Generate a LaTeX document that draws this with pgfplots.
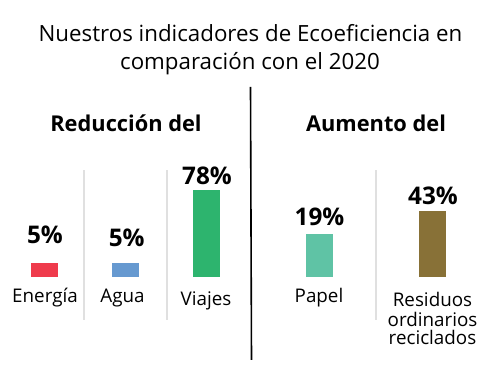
\documentclass[border=0pt]{standalone}
\usepackage{fontspec}
\setmainfont{Open Sans}
\usepackage{pgfplots}
\pgfplotsset{compat=1.18}
\definecolor{cEner}{HTML}{EF3B4C}
\definecolor{cAgua}{HTML}{6699D0}
\definecolor{cViaj}{HTML}{2DB46E}
\definecolor{cPap}{HTML}{5FC3A5}
\definecolor{cRes}{HTML}{887137}
\definecolor{cSep}{HTML}{E0E0E0}
\newcommand{\tfont}{\fontsize{22.3}{26}\selectfont}
\newcommand{\hfont}{\fontsize{21.8}{24}\selectfont\bfseries}
\newcommand{\cfont}{\fontsize{18.8}{22}\selectfont}
\newcommand{\pfont}{\fontsize{24.3}{28}\selectfont\bfseries}
\begin{document}
\begin{tikzpicture}
\useasboundingbox (0,0) rectangle (501pt,374pt);
\begin{axis}[
  at={(0,0)}, anchor=south west,
  scale only axis, width=501pt, height=374pt,
  xmin=0, xmax=501, ymin=-97, ymax=277,
  hide axis, clip=false,
  ybar, bar width=27pt, bar shift=0pt,
]
% bars (visual heights as drawn)
\addplot[fill=cEner, draw=none] coordinates {(44.7,14)};
\addplot[fill=cAgua, draw=none] coordinates {(125.8,14)};
\addplot[fill=cViaj, draw=none] coordinates {(206,86.6)};
\addplot[fill=cPap, draw=none] coordinates {(319,42.6)};
\addplot[fill=cRes, draw=none] coordinates {(432.7,66.3)};
% separators
\addplot[sharp plot, no marks, draw=cSep, line width=2pt] coordinates {(83.5,107) (83.5,-43)};
\addplot[sharp plot, no marks, draw=cSep, line width=2pt] coordinates {(166.5,107) (166.5,-43)};
\addplot[sharp plot, no marks, draw=cSep, line width=2pt] coordinates {(376,107) (376,-43)};
\addplot[sharp plot, no marks, draw=black, line width=1.6pt] coordinates {(250.5,190) (251.5,-83)};
% title
\node[anchor=base, inner sep=0] at (axis cs:250.5,235.3) {\tfont Nuestros indicadores de Ecoeficiencia en};
\node[anchor=base, inner sep=0] at (axis cs:250,207) {\tfont comparación con el 2020};
% headers
\node[anchor=base, inner sep=0] at (axis cs:126,145.3) {\hfont Reducción del};
\node[anchor=base, inner sep=0] at (axis cs:376,145.3) {\hfont Aumento del};
% values
\node[anchor=base, inner sep=0] at (axis cs:45,33) {\pfont 5\%};
\node[anchor=base, inner sep=0] at (axis cs:126.7,30) {\pfont 5\%};
\node[anchor=base, inner sep=0] at (axis cs:207,92) {\pfont 78\%};
\node[anchor=base, inner sep=0] at (axis cs:319.5,51) {\pfont 19\%};
\node[anchor=base, inner sep=0] at (axis cs:433,72) {\pfont 43\%};
% categories
\node[anchor=base, inner sep=0] at (axis cs:45,-26) {\cfont Energía};
\node[anchor=base, inner sep=0] at (axis cs:122.5,-26) {\cfont Agua};
\node[anchor=base, inner sep=0] at (axis cs:206,-29) {\cfont Viajes};
\node[anchor=base, inner sep=0] at (axis cs:319,-26) {\cfont Papel};
\node[anchor=base, inner sep=0] at (axis cs:432.5,-30) {\cfont Residuos};
\node[anchor=base, inner sep=0] at (axis cs:432.5,-49.5) {\cfont ordinarios};
\node[anchor=base, inner sep=0] at (axis cs:432.5,-68) {\cfont reciclados};
\end{axis}
\end{tikzpicture}
\end{document}
